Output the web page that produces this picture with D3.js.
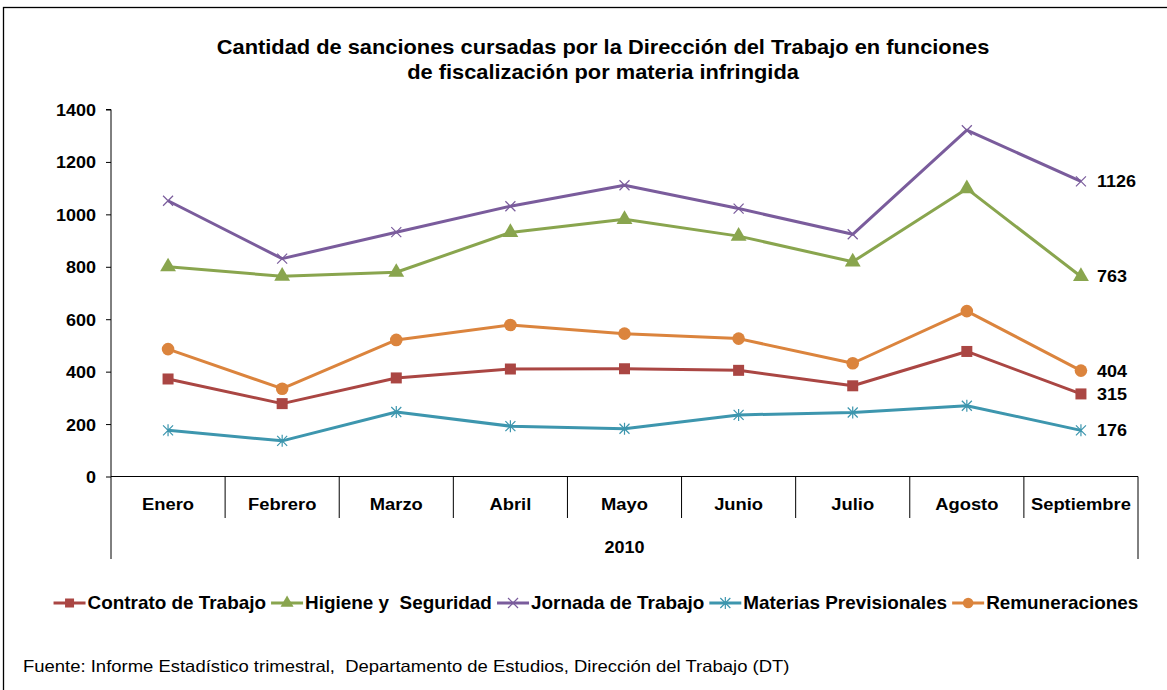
<!DOCTYPE html>
<html>
<head>
<meta charset="utf-8">
<script src="https://cdn.jsdelivr.net/npm/d3@7"></script>
<style>
  body { margin: 0; background: #fff; }
  text { font-family: "Liberation Sans", Arial, sans-serif; fill: #000; }
</style>
</head>
<body>
<div id="chart"></div>
<script>
var months = ['Enero', 'Febrero', 'Marzo', 'Abril', 'Mayo', 'Junio', 'Julio', 'Agosto', 'Septiembre'];
var yTicks = [0, 200, 400, 600, 800, 1000, 1200, 1400];

var contrato = [372, 278, 376, 410, 411, 405, 346, 477, 315];
var higiene = [800, 764, 779, 931, 981, 917, 819, 1098, 763];
var jornada = [1052, 831, 932, 1031, 1111, 1022, 924, 1321, 1126];
var materias = [176, 136, 246, 192, 182, 235, 244, 270, 176];
var remuneraciones = [486, 335, 521, 578, 545, 526, 432, 631, 404];

var series = [
    { name: 'Contrato de Trabajo', values: contrato, color: '#AA4643', marker: 'square' },
    { name: 'Higiene y  Seguridad', values: higiene, color: '#89A54E', marker: 'triangle' },
    { name: 'Jornada de Trabajo', values: jornada, color: '#7A5C9C', marker: 'x' },
    { name: 'Materias Previsionales', values: materias, color: '#3D96AE', marker: 'star' },
    { name: 'Remuneraciones', values: remuneraciones, color: '#DB843D', marker: 'circle' }
];

var width = 1167, height = 690;
var plotLeft = 111, plotRight = 1138, plotTop = 109.5, plotBottom = 476.5;

var svg = d3.select('#chart').append('svg')
    .attr('width', width)
    .attr('height', height);

// text in the original is a bit wider than Arial, stretch it horizontally
var stretch = function (sel, k) {
    sel.each(function () {
        var t = d3.select(this);
        var tx = +t.attr('x') || 0, ty = +t.attr('y') || 0;
        t.attr('x', 0).attr('y', 0)
            .attr('transform', 'translate(' + tx + ',' + ty + ') scale(' + k + ',1)');
    });
};

// outer frame
svg.append('rect')
    .attr('x', 3.5).attr('y', 7.5)
    .attr('width', 1300).attr('height', 800)
    .attr('fill', 'none').attr('stroke', '#000').attr('stroke-width', 1.3);

// title
['Cantidad de sanciones cursadas por la Dirección del Trabajo en funciones',
 'de fiscalización por materia infringida'].forEach(function (s, i) {
    svg.append('text')
        .attr('x', 603).attr('y', 54 + i * 25)
        .attr('text-anchor', 'middle')
        .style('font-size', '19.5px')
        .style('font-weight', 'bold')
        .text(s)
        .call(stretch, 1.12);
});

var x = d3.scaleBand().domain(months).range([plotLeft, plotRight]);
var y = d3.scaleLinear().domain([0, 1400]).range([plotBottom, plotTop]);

// y axis
var yAxis = svg.append('g')
    .attr('transform', 'translate(' + plotLeft + ',0)')
    .call(d3.axisLeft(y).tickValues(yTicks).tickFormat(d3.format('d')).tickSize(5).tickPadding(10));
yAxis.select('.domain').attr('d', 'M-5,' + plotTop + 'H0V' + plotBottom);
yAxis.selectAll('text')
    .style('font-size', '17px')
    .style('font-weight', 'bold')
    .attr('dy', null)
    .attr('y', 6)
    .call(stretch, 1.06);

// x axis with category boxes
var xg = svg.append('g');
xg.append('line')
    .attr('x1', plotLeft).attr('x2', plotRight)
    .attr('y1', plotBottom).attr('y2', plotBottom)
    .attr('stroke', '#000');
xg.selectAll('line.sep')
    .data(months.slice(1))
    .enter().append('line')
    .attr('class', 'sep')
    .attr('x1', function (d) { return x(d); })
    .attr('x2', function (d) { return x(d); })
    .attr('y1', plotBottom).attr('y2', 518)
    .attr('stroke', '#000');
[plotLeft, plotRight].forEach(function (px) {
    xg.append('line')
        .attr('x1', px).attr('x2', px)
        .attr('y1', plotBottom).attr('y2', 559)
        .attr('stroke', '#000');
});
xg.selectAll('text.cat')
    .data(months)
    .enter().append('text')
    .attr('class', 'cat')
    .attr('x', function (d) { return x(d) + x.bandwidth() / 2; })
    .attr('y', 510)
    .attr('text-anchor', 'middle')
    .style('font-size', '17px')
    .style('font-weight', 'bold')
    .text(function (d) { return d; })
    .call(stretch, 1.08);
xg.append('text')
    .attr('x', (plotLeft + plotRight) / 2)
    .attr('y', 553)
    .attr('text-anchor', 'middle')
    .style('font-size', '17px')
    .style('font-weight', 'bold')
    .text('2010')
    .call(stretch, 1.06);

var cx = function (i) { return x(months[i]) + x.bandwidth() / 2; };

var drawMarker = function (g, type, color, s) {
    if (type === 'square') {
        g.append('rect').attr('x', -s).attr('y', -s).attr('width', 2 * s).attr('height', 2 * s)
            .attr('fill', color);
    } else if (type === 'triangle') {
        g.append('path').attr('d', d3.symbol(d3.symbolTriangle, s * s * 3.6)())
            .attr('fill', color);
    } else if (type === 'circle') {
        g.append('circle').attr('r', s + 0.8).attr('fill', color);
    } else if (type === 'x') {
        g.append('path').attr('d', 'M-5,-5L5,5M-5,5L5,-5')
            .attr('stroke', color).attr('stroke-width', 1.2).attr('fill', 'none');
    } else if (type === 'star') {
        g.append('path').attr('d', 'M-5,-5L5,5M-5,5L5,-5M0,-6V6')
            .attr('stroke', color).attr('stroke-width', 1.2).attr('fill', 'none');
    }
};

var line = d3.line()
    .x(function (d, i) { return cx(i); })
    .y(function (d) { return y(d); });

series.forEach(function (s) {
    svg.append('path')
        .datum(s.values)
        .attr('d', line)
        .attr('fill', 'none')
        .attr('stroke', s.color)
        .attr('stroke-width', 3)
        .attr('stroke-linejoin', 'round');

    s.values.forEach(function (v, i) {
        var g = svg.append('g').attr('transform', 'translate(' + cx(i) + ',' + y(v) + ')');
        drawMarker(g, s.marker, s.color, 5.5);
    });

    var last = s.values.length - 1;
    svg.append('text')
        .attr('x', cx(last) + 16)
        .attr('y', y(s.values[last]) + 6)
        .style('font-size', '17px')
        .style('font-weight', 'bold')
        .text(s.values[last])
        .call(stretch, 1.06);
});

// legend
var legendK = 1.08, legendGap = 5;
var legend = svg.append('g');
var lx = 0;
series.forEach(function (s) {
    var item = legend.append('g').attr('transform', 'translate(' + lx + ',0)');
    item.append('line')
        .attr('x1', 0).attr('x2', 32)
        .attr('y1', 0).attr('y2', 0)
        .attr('stroke', s.color).attr('stroke-width', 3);
    var m = item.append('g').attr('transform', 'translate(16,0)');
    drawMarker(m, s.marker, s.color, 4.5);
    var t = item.append('text')
        .attr('x', 34)
        .attr('y', 6)
        .style('font-size', '17.5px')
        .style('font-weight', 'bold')
        .attr('xml:space', 'preserve')
        .text(s.name);
    var tw = t.node().getComputedTextLength() * legendK;
    t.call(stretch, legendK);
    lx += 34 + tw + legendGap;
});
lx -= legendGap;
legend.attr('transform', 'translate(' + (596 - lx / 2) + ',603)');

// source
svg.append('text')
    .attr('x', 23)
    .attr('y', 672)
    .style('font-size', '16.5px')
    .attr('xml:space', 'preserve')
    .text('Fuente: Informe Estadístico trimestral,  Departamento de Estudios, Dirección del Trabajo (DT)')
    .call(stretch, 1.12);
</script>
</body>
</html>
